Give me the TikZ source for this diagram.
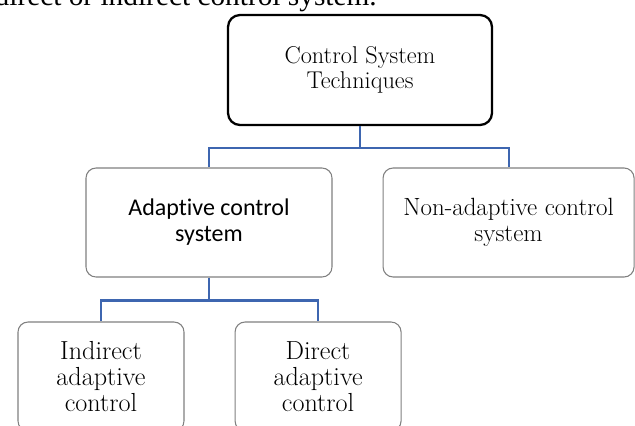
\documentclass[tikz,border=0pt]{standalone}
\usepackage{fontspec}
\newfontfamily\timesfont{Liberation Serif}
\newfontfamily\calibrifont[Ligatures=NoCommon]{Carlito}
\usetikzlibrary{
  positioning,  % Function "of" (e.g. [right=of x])
}
\definecolor{linkblue}{RGB}{62,102,176}
\def\myhgap{37.5pt}
\def\mydrop{22}
\def\mydropsmall{23}
\tikzset{
  semithick,
  my box/.style={
    draw=black!50,
    line width=0.8pt,
    rounded corners=7.5pt,
    align=center,
    inner sep=0pt,
    minimum height=81.75pt,
    rectangle
  },
  my root/.style={
    my box,
    draw=black,
    line width=1.7pt,
    rounded corners=9pt,
    minimum width=198pt,
    minimum height=82.5pt,
    font=\fontsize{18.2}{18.75}\selectfont
  },
  my mid/.style={
    my box,
    minimum width=184.5pt,
    font=\fontsize{18.7}{19.5}\selectfont
  },
  my sans/.style={
    font=\calibrifont\fontsize{18}{19.5}\selectfont
  },
  my leaf/.style={
    my box,
    minimum width=124.5pt,
    font=\fontsize{19.6}{19.6}\selectfont
  },
  link/.style={
    draw=linkblue,
    line width=1.6pt
  }
}

\begin{document}
\begin{tikzpicture}[x=0.75pt,y=-0.75pt]
\useasboundingbox (0,0) rectangle (635,425);
\clip (0,0) rectangle (635,425);
% line of the page text above the chart
\node[font=\timesfont\fontsize{22}{26}\selectfont,anchor=base east,inner sep=0pt]
  (lead) at (377,5.5) {direct or indirect control system.};
\node[my root]                  (cst)  at (360,70)    {Control System\\Techniques};
\node[my mid,my sans]           (acs)  at (209,222.5) {Adaptive control\\system};
\node[my mid,minimum width=188.25pt] (nacs) [right=\myhgap of acs] {Non-adaptive control\\system};
\node[my leaf]                  (iac)  at (101,376.5) {Indirect\\adaptive\\control};
\node[my leaf]                  (dac)  [right=\myhgap of iac] {Direct\\adaptive\\control};
\draw[link] (cst.south) -- ++(0,\mydrop) -| (acs.north);
\draw[link] (cst.south) -- ++(0,\mydrop) -| (nacs.north);
\draw[link] (acs.south) -- ++(0,\mydropsmall) -| (iac.north);
\draw[link] (acs.south) -- ++(0,\mydropsmall) -| (dac.north);
\end{tikzpicture}
\end{document}
